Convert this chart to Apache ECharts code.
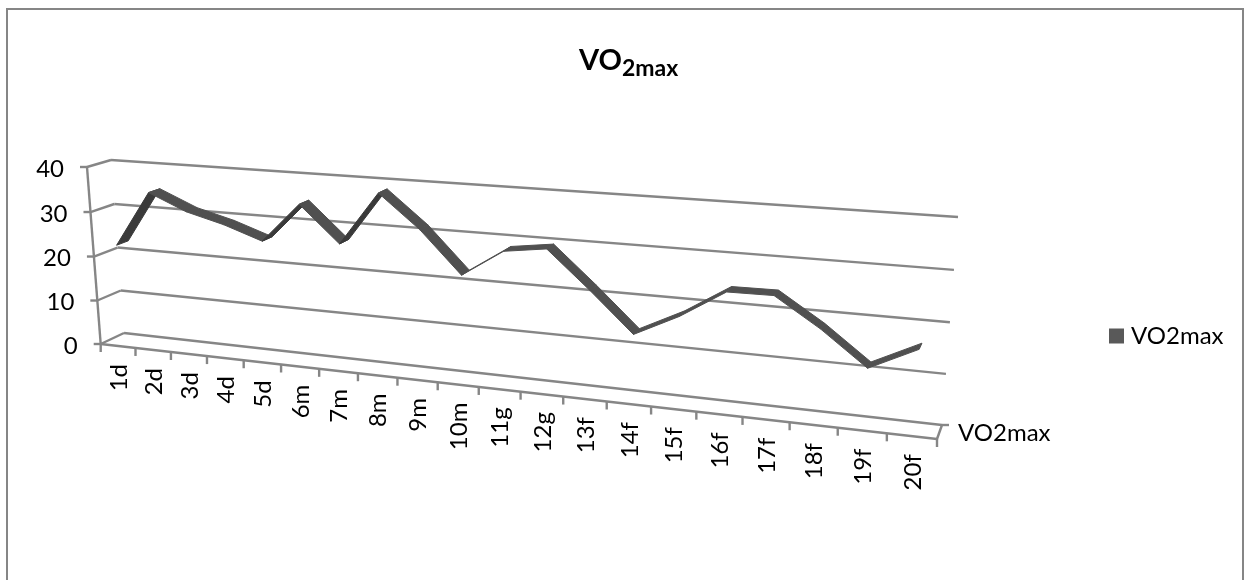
<!DOCTYPE html>
<html><head><meta charset="utf-8">
<style>html,body{margin:0;padding:0;background:#fff}#c{width:1244px;height:580px}</style>
<script src="https://cdn.jsdelivr.net/npm/echarts@6/dist/echarts.min.js"></script>
</head><body><div id="c"></div>
<script>
var categories = ['1d','2d','3d','4d','5d','6m','7m','8m','9m','10m','11g','12g','13f','14f','15f','16f','17f','18f','19f','20f'];
var values = [22.4,34.8,31.2,29,26.1,34.7,26.9,38.3,31.3,22.5,28.2,29.4,21.7,13.6,18.1,23.8,23.9,18.2,11.5,16.1];
var yTicks = [0,10,20,30,40];
var seriesName = 'VO2max';

var FONT = 'Lato';
var GRID = '#868686';
// projected box corners
var box = {
  fbl:[100.7,344], fbr:[937,439], ftl:[87,167], ftr:[953,227],
  bbl:[124,333],   bbr:[942,425], btl:[111,160], btr:[958,217]
};
var cx = -0.175, cu = -0.023;
function mix(a,b,k){return [a[0]+(b[0]-a[0])*k, a[1]+(b[1]-a[1])*k];}
function project(t,u,d){
  var tp = t*(1+cx)/(1+cx*t), up = u*(1+cu)/(1+cu*u);
  var fl = mix(box.fbl,box.ftl,up), fr = mix(box.fbr,box.ftr,up);
  var bl = mix(box.bbl,box.btl,up), br = mix(box.bbr,box.btr,up);
  return mix(mix(fl,fr,tp), mix(bl,br,tp), d);
}
function norm(params,api,x,v){
  var p = api.coord([x,v]), g = params.coordSys;
  return {t:(p[0]-g.x)/g.width, u:1-(p[1]-g.y)/g.height};
}
function seg(a,b,w){
  return {type:'line',shape:{x1:a[0],y1:a[1],x2:b[0],y2:b[1]},style:{stroke:GRID,lineWidth:w||2.4}};
}
function txt(x,y,s,align,rot){
  return {type:'text',x:x,y:y,rotation:rot||0,style:{text:s,fontFamily:FONT,fontSize:24,fill:'#000',align:align,verticalAlign:'middle'}};
}
function renderValueAxis(params,api){
  var n = norm(params,api,0,api.value(1));
  var fl = project(0,n.u,0), bl = project(0,n.u,1), br = project(1,n.u,1);
  var kids = [seg(fl,bl),seg(bl,br),seg([fl[0]-7,fl[1]],fl),txt(fl[0]-23,fl[1]+2,String(api.value(1)),'right')];
  if(params.dataIndex===0){
    var top = project(0,1,0);
    kids.push(seg(fl,top));
    var fr = project(1,0,0), brr = project(1,0,1);
    kids.push(seg(fl,fr));
    kids.push(seg(fr,brr));
    kids.push(seg(brr,[brr[0]+7,brr[1]]));
    kids.push(seg(fr,[fr[0],fr[1]+8]));
  }
  return {type:'group',children:kids};
}
function renderCategory(params,api){
  var i = api.value(0), n = norm(params,api,i,0);
  var band = api.size([1,0])[0]/params.coordSys.width;
  var tick = project(n.t-band/2,0,0), mid = project(n.t,0,0);
  var kids = [txt(mid[0]+1,mid[1]+18,categories[i],'right',Math.PI/2)];
  kids.push(seg(tick,[tick[0],tick[1]+8]));
  return {type:'group',children:kids};
}
function renderRibbon(params,api){
  var i = params.dataIndex;
  if(i>=values.length-1) return null;
  var a = norm(params,api,i,values[i]), b = norm(params,api,i+1,values[i+1]);
  var a0 = project(a.t,a.u,0.25), a1 = project(a.t,a.u,0.75);
  var b0 = project(b.t,b.u,0.25), b1 = project(b.t,b.u,0.75);
  var c = values[i+1]-values[i]>6 ? '#3a3a3a' : '#505050';
  return {type:'polygon',shape:{points:[a0,b0,b1,a1]},style:{fill:c,stroke:c,lineWidth:1}};
}
var chart = echarts.init(document.getElementById('c'),null,{renderer:'canvas'});
chart.setOption({
  animation:false,
  backgroundColor:'#fff',
  title:{left:579,top:46,padding:0,itemGap:0,
    text:'{a|VO}{b|2max}',
    textStyle:{rich:{
      a:{fontFamily:FONT,fontSize:29,fontWeight:'bold',color:'#000',verticalAlign:'top',lineHeight:34},
      b:{fontFamily:FONT,fontSize:23,fontWeight:'bold',color:'#000',verticalAlign:'bottom',lineHeight:26,padding:[18,0,0,0]}
    }}},
  legend:{left:1109,top:324,padding:0,data:[seriesName],icon:'rect',itemWidth:15,itemHeight:15,
    textStyle:{fontFamily:FONT,fontSize:24,color:'#000',padding:[0,0,0,2]}},
  grid:{left:0,right:0,top:0,bottom:0},
  xAxis:{type:'category',data:categories,show:false},
  yAxis:{type:'value',min:0,max:40,interval:10,show:false},
  graphic:[
    {type:'polyline',silent:true,shape:{points:[[7,590],[7,9],[1243,9],[1243,590]]},style:{fill:'none',stroke:GRID,lineWidth:2}},
    {type:'text',left:958,top:421,silent:true,style:{text:seriesName,fontFamily:FONT,fontSize:24,fill:'#000'}}
  ],
  series:[
    {type:'custom',name:'axes',silent:true,clip:false,z:1,renderItem:renderValueAxis,encode:{x:0,y:1},
      data:yTicks.map(function(v){return [0,v];})},
    {type:'custom',name:'cats',silent:true,clip:false,z:1,renderItem:renderCategory,encode:{x:0,y:1},
      data:categories.map(function(c,i){return [i,0];})},
    {type:'custom',name:seriesName,silent:true,clip:false,z:3,renderItem:renderRibbon,encode:{x:0,y:1},
      itemStyle:{color:'#595959'},
      data:values.map(function(v,i){return [i,v];})}
  ]
});
</script></body></html>
